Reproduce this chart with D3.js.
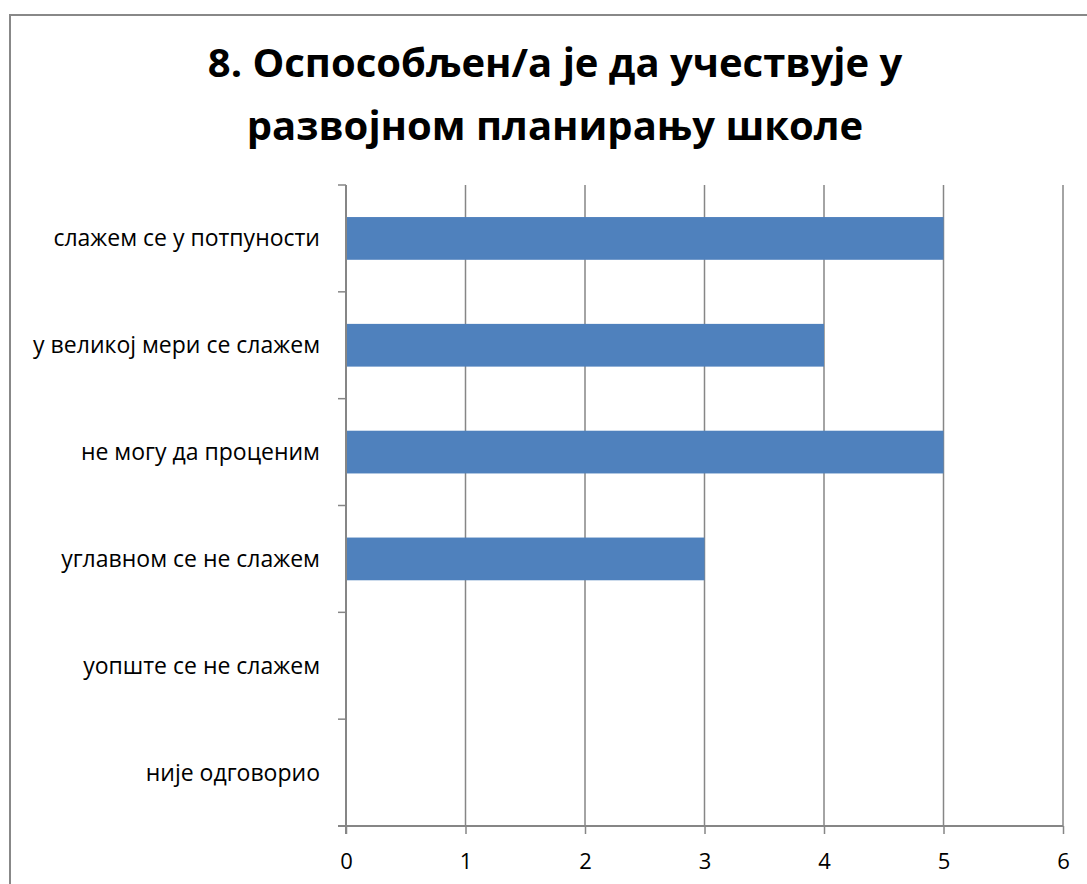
<!DOCTYPE html>
<html>
<head>
<meta charset="utf-8">
<script src="https://cdn.jsdelivr.net/npm/d3@7"></script>
<style>
  body { margin: 0; background: #fff; }
  svg { display: block; }
  .cat-label, .tick-label { font-family: "Open Sans", "Noto Sans", sans-serif; fill: #000; }
  .title { font-family: "Open Sans", "Noto Sans", sans-serif; font-weight: bold; fill: #000; }
</style>
</head>
<body>
<svg id="chart"></svg>
<script>
// chart data
const titleLines = ["8. Оспособљен/а је да учествује у", "развојном планирању школе"];
const categories = [
  "слажем се у потпуности",
  "у великој мери се слажем",
  "не могу да проценим",
  "углавном се не слажем",
  "уопште се не слажем",
  "није одговорио"
];
const values = [5, 4, 5, 3, 0, 0];
const xTicks = [0, 1, 2, 3, 4, 5, 6];

const W = 1087, H = 884;
const margin = { top: 185, right: 24, bottom: 58, left: 346 };
const gridColor = "#868686";

const svg = d3.select("#chart").attr("width", W).attr("height", H);

// outer chart frame (right and bottom edges fall outside the picture)
svg.append("rect")
  .attr("x", 10).attr("y", 15)
  .attr("width", W + 20).attr("height", H + 20)
  .attr("fill", "#fff")
  .attr("stroke", "#888").attr("stroke-width", 2);

// title
svg.append("g")
  .selectAll("text")
  .data(titleLines)
  .join("text")
  .attr("class", "title")
  .attr("x", 555)
  .attr("y", (d, i) => 77 + i * 63)
  .attr("text-anchor", "middle")
  .style("font-size", "40px")
  .text((d) => d);

const x = d3.scaleLinear().domain([0, 6]).range([margin.left, W - margin.right]);
const y = d3.scaleBand()
  .domain(categories)
  .range([margin.top, H - margin.bottom])
  .paddingInner(0.6)
  .paddingOuter(0.3);

const bottom = H - margin.bottom;

// vertical grid lines
svg.append("g")
  .selectAll("line")
  .data(xTicks.filter((d) => d > 0))
  .join("line")
  .attr("x1", (d) => x(d)).attr("x2", (d) => x(d))
  .attr("y1", margin.top).attr("y2", bottom)
  .attr("stroke", gridColor).attr("stroke-width", 1.5);

// bars
svg.append("g")
  .selectAll("rect")
  .data(categories.map((c, i) => ({ cat: c, value: values[i] })))
  .join("rect")
  .attr("x", x(0))
  .attr("y", (d) => y(d.cat))
  .attr("width", (d) => x(d.value) - x(0))
  .attr("height", y.bandwidth())
  .attr("fill", "#4F81BD");

// x axis
const xAxis = svg.append("g")
  .attr("transform", `translate(0,${bottom})`)
  .call(d3.axisBottom(x).tickValues(xTicks).tickFormat(d3.format("d"))
    .tickSize(8).tickPadding(19).tickSizeOuter(0));
xAxis.select(".domain").attr("stroke", gridColor).attr("stroke-width", 2)
  .attr("d", `M${x(0) - 8},0H${x(6)}`);
xAxis.selectAll(".tick line").attr("stroke", gridColor).attr("stroke-width", 1.5);
xAxis.selectAll(".tick text")
  .attr("class", "tick-label")
  .style("font-size", "22px")
  .attr("fill", "#000");

// y axis with category boundary ticks
const bounds = d3.range(categories.length + 1).map((i) => margin.top + i * (bottom - margin.top) / categories.length);
const yAxis = svg.append("g");
yAxis.append("line")
  .attr("x1", x(0)).attr("x2", x(0))
  .attr("y1", margin.top).attr("y2", bottom + 8)
  .attr("stroke", gridColor).attr("stroke-width", 2);
yAxis.selectAll("line.tk")
  .data(bounds)
  .join("line")
  .attr("class", "tk")
  .attr("x1", x(0) - 8).attr("x2", x(0))
  .attr("y1", (d) => d).attr("y2", (d) => d)
  .attr("stroke", gridColor).attr("stroke-width", 1.5);

yAxis.selectAll("text")
  .data(categories)
  .join("text")
  .attr("class", "cat-label")
  .attr("x", x(0) - 26)
  .attr("y", (d) => y(d) + y.bandwidth() / 2)
  .attr("dy", "0.35em")
  .attr("text-anchor", "end")
  .style("font-size", "23px")
  .text((d) => d);
</script>
</body>
</html>
